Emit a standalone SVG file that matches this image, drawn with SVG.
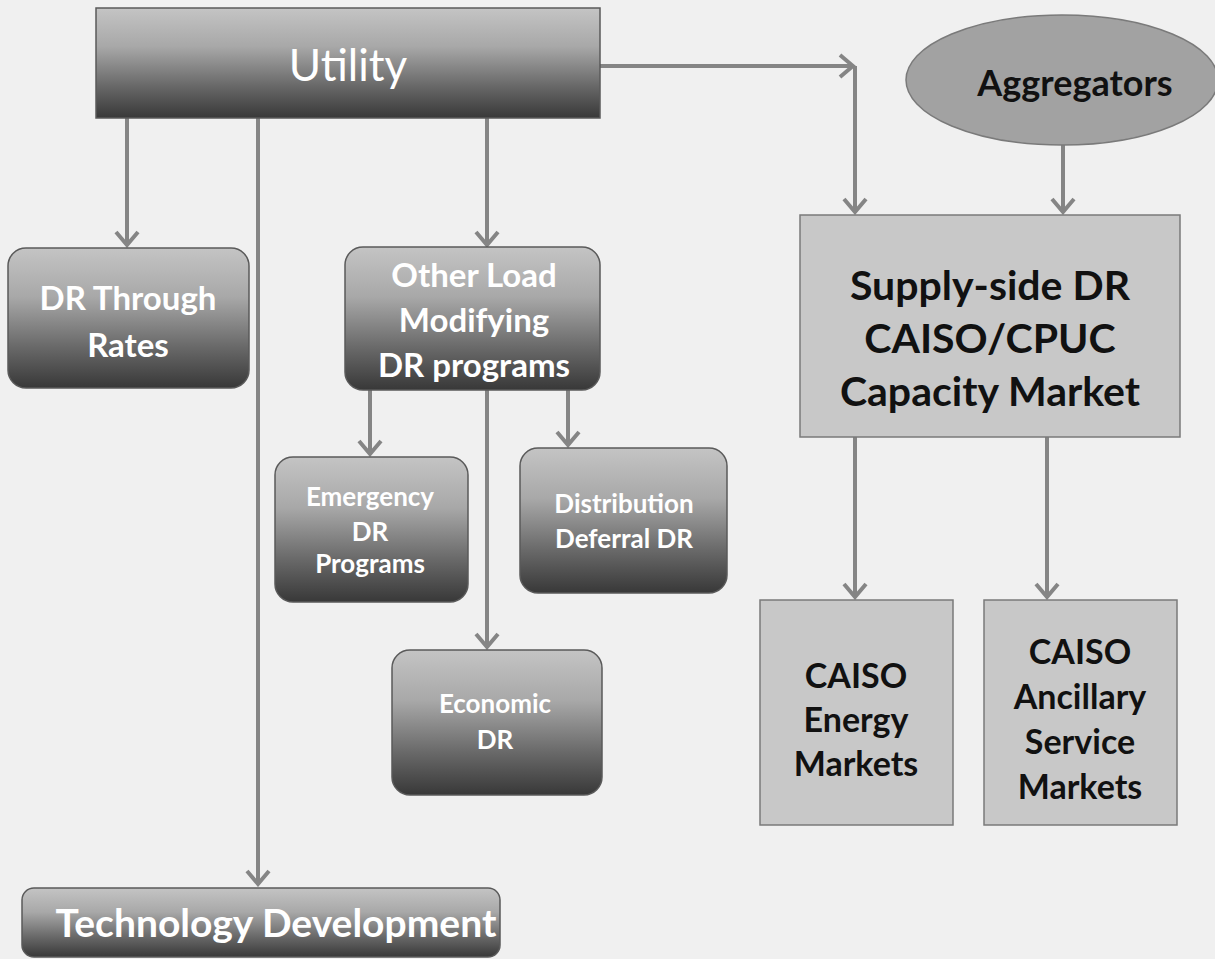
<svg xmlns="http://www.w3.org/2000/svg" width="1215" height="959" viewBox="0 0 1215 959">
<defs>
<linearGradient id="g" x1="0" y1="0" x2="0" y2="1">
<stop offset="0" stop-color="#c4c4c4"/>
<stop offset="0.35" stop-color="#a8a8a8"/>
<stop offset="0.7" stop-color="#6a6a6a"/>
<stop offset="1" stop-color="#383838"/>
</linearGradient>
<marker id="ah" markerWidth="18" markerHeight="26" refX="15" refY="13" orient="auto" markerUnits="userSpaceOnUse">
<path d="M2,2 L15,13 L2,24" fill="none" stroke="#858585" stroke-width="4" stroke-linejoin="miter"/>
</marker>
<style>
.grad{fill:url(#g);stroke:#5a5a5a;stroke-width:1.5}
.lite{fill:#c8c8c8;stroke:#7a7a7a;stroke-width:1.5}
.wt{font-family:Lato,"Liberation Sans",sans-serif;font-weight:bold;fill:#ffffff;text-anchor:middle}
.bk{font-family:Lato,"Liberation Sans",sans-serif;font-weight:bold;fill:#111111;text-anchor:middle}
.ln{fill:none;stroke:#858585;stroke-width:4}
</style>
</defs>
<rect width="1215" height="959" fill="#f0f0f0"/>
<g id="connectors">
<path class="ln" d="M600,66 H853" marker-end="url(#ah)"/>
<path class="ln" d="M855,66 V212" marker-end="url(#ah)"/>
<path class="ln" d="M1063,145 V212" marker-end="url(#ah)"/>
<path class="ln" d="M127,118 V245" marker-end="url(#ah)"/>
<path class="ln" d="M487,118 V245" marker-end="url(#ah)"/>
<path class="ln" d="M258,118 V884" marker-end="url(#ah)"/>
<path class="ln" d="M370,390 V454" marker-end="url(#ah)"/>
<path class="ln" d="M568,390 V445" marker-end="url(#ah)"/>
<path class="ln" d="M487,390 V647" marker-end="url(#ah)"/>
<path class="ln" d="M855,437 V597" marker-end="url(#ah)"/>
<path class="ln" d="M1047,437 V597" marker-end="url(#ah)"/>
</g>
<g id="utility">
<rect class="grad" x="96" y="8" width="504" height="110"/>
<text x="348" y="81" font-family="Lato,'Liberation Sans',sans-serif" font-size="44" fill="#ffffff" text-anchor="middle">Utility</text>
</g>
<g id="dr-rates">
<rect class="grad" x="8" y="248" width="241" height="140" rx="18"/>
<text class="wt" font-size="33" x="128" y="310">DR Through</text>
<text class="wt" font-size="33" x="128" y="357">Rates</text>
</g>
<g id="other-load">
<rect class="grad" x="345" y="247" width="255" height="143" rx="18"/>
<text class="wt" font-size="33" x="474" y="287">Other Load</text>
<text class="wt" font-size="33" x="474" y="332">Modifying</text>
<text class="wt" font-size="33" x="474" y="377">DR programs</text>
</g>
<g id="emergency">
<rect class="grad" x="275" y="457" width="193" height="145" rx="18"/>
<text class="wt" font-size="26" x="370" y="506">Emergency</text>
<text class="wt" font-size="26" x="370" y="541">DR</text>
<text class="wt" font-size="26" x="370" y="573">Programs</text>
</g>
<g id="distribution">
<rect class="grad" x="520" y="448" width="207" height="145" rx="18"/>
<text class="wt" font-size="26" x="624" y="513">Distribution</text>
<text class="wt" font-size="26" x="624" y="548">Deferral DR</text>
</g>
<g id="economic">
<rect class="grad" x="392" y="650" width="210" height="145" rx="18"/>
<text class="wt" font-size="26" x="495" y="713">Economic</text>
<text class="wt" font-size="26" x="495" y="749">DR</text>
</g>
<g id="tech-dev">
<rect class="grad" x="22" y="888" width="478" height="69" rx="12"/>
<text class="wt" font-size="39" x="276" y="937">Technology Development</text>
</g>
<g id="aggregators">
<ellipse cx="1062" cy="80" rx="156" ry="65" fill="#a2a2a2" stroke="#7a7a7a" stroke-width="1.5"/>
<text class="bk" font-size="36" x="1075" y="96">Aggregators</text>
</g>
<g id="supply-side">
<rect class="lite" x="800" y="215" width="380" height="222"/>
<text class="bk" font-size="41" x="990" y="300">Supply-side DR</text>
<text class="bk" font-size="41" x="990" y="353">CAISO/CPUC</text>
<text class="bk" font-size="41" x="990" y="406">Capacity Market</text>
</g>
<g id="energy-markets">
<rect class="lite" x="760" y="600" width="193" height="225"/>
<text class="bk" font-size="34" x="856" y="688">CAISO</text>
<text class="bk" font-size="34" x="856" y="732">Energy</text>
<text class="bk" font-size="34" x="856" y="776">Markets</text>
</g>
<g id="ancillary-markets">
<rect class="lite" x="984" y="600" width="193" height="225"/>
<text class="bk" font-size="34" x="1080" y="664">CAISO</text>
<text class="bk" font-size="34" x="1080" y="709">Ancillary</text>
<text class="bk" font-size="34" x="1080" y="754">Service</text>
<text class="bk" font-size="34" x="1080" y="799">Markets</text>
</g>
</svg>
